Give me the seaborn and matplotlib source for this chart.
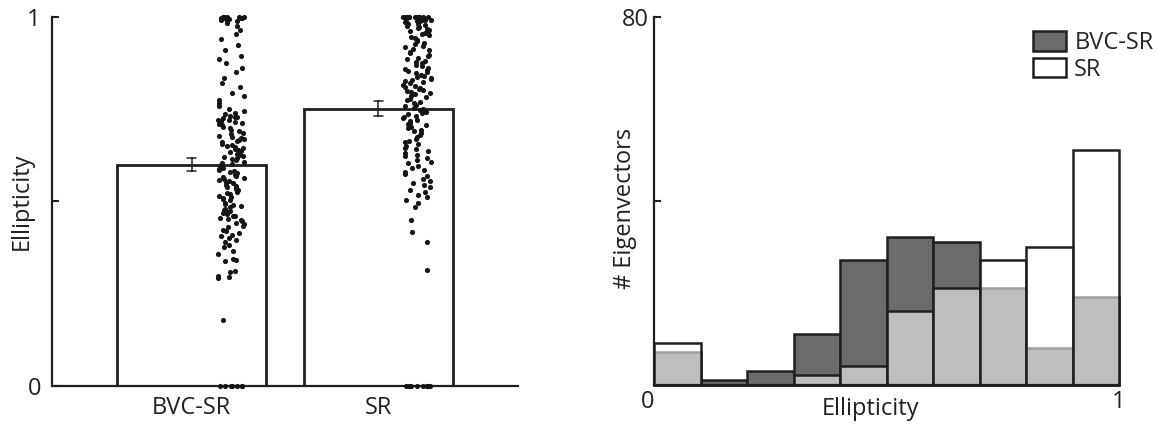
import numpy as np
import pandas as pd
import matplotlib
matplotlib.use("Agg")
import matplotlib.pyplot as plt
import seaborn as sns
from matplotlib.patches import Patch

# ---------------- data ----------------
categories = ["BVC-SR", "SR"]

bvc_sr_values = [
    0.0, 0.0, 0.0, 0.0, 0.0, 0.0, 0.0,
    0.18,
    0.292, 0.296, 0.299,
    0.31, 0.312, 0.338, 0.342, 0.345, 0.358, 0.365, 0.378, 0.382, 0.39, 0.396,
    0.402, 0.406, 0.41, 0.414, 0.42, 0.424, 0.43, 0.434, 0.44, 0.443, 0.447,
    0.45, 0.452, 0.456, 0.46, 0.462, 0.466, 0.47, 0.472, 0.475, 0.478, 0.481,
    0.484, 0.487, 0.49, 0.494, 0.497,
    0.503, 0.506, 0.51, 0.512, 0.516, 0.52, 0.523, 0.527, 0.53, 0.533, 0.536,
    0.54, 0.543, 0.546, 0.55, 0.552, 0.555, 0.558, 0.561, 0.564, 0.567, 0.57,
    0.573, 0.576, 0.579, 0.582, 0.585, 0.588, 0.59, 0.593, 0.596, 0.598,
    0.602, 0.605, 0.608, 0.612, 0.615, 0.618, 0.621, 0.624, 0.627, 0.63, 0.633,
    0.636, 0.639, 0.642, 0.645, 0.648, 0.651, 0.654, 0.657, 0.66, 0.663, 0.666,
    0.669, 0.672, 0.675, 0.678, 0.682, 0.686, 0.69, 0.694, 0.698,
    0.702, 0.706, 0.71, 0.712, 0.715, 0.718, 0.72, 0.722, 0.725, 0.728, 0.73,
    0.733, 0.736, 0.74, 0.745, 0.752, 0.76, 0.768, 0.775, 0.785, 0.795,
    0.81, 0.82, 0.835, 0.85, 0.862, 0.875, 0.885, 0.895,
    0.91, 0.925, 0.94, 0.955, 0.965, 0.975, 0.985, 0.99, 0.992, 0.994, 0.995,
    0.996, 0.997, 0.998, 0.999, 1.0, 1.0, 1.0, 1.0,
]

sr_values = [
    0.0, 0.0, 0.0, 0.0, 0.0, 0.0, 0.0, 0.0, 0.0,
    0.315, 0.39,
    0.416, 0.45, 0.486, 0.495,
    0.505, 0.512, 0.518, 0.525, 0.532, 0.54, 0.545, 0.55, 0.556, 0.562, 0.568,
    0.575, 0.58, 0.586, 0.59, 0.596,
    0.603, 0.608, 0.612, 0.618, 0.622, 0.627, 0.632, 0.636, 0.641, 0.646, 0.65,
    0.655, 0.66, 0.665, 0.67, 0.675, 0.68, 0.685, 0.69, 0.694, 0.698,
    0.702, 0.706, 0.71, 0.714, 0.718, 0.721, 0.725, 0.729, 0.732, 0.736, 0.74,
    0.743, 0.747, 0.75, 0.754, 0.758, 0.762, 0.766, 0.77, 0.774, 0.778, 0.782,
    0.786, 0.79, 0.793, 0.796, 0.799,
    0.802, 0.805, 0.808, 0.811, 0.814, 0.817, 0.82, 0.823, 0.826, 0.829, 0.832,
    0.835, 0.838, 0.841, 0.844, 0.847, 0.85, 0.853, 0.856, 0.859, 0.862, 0.866,
    0.87, 0.874, 0.878, 0.882, 0.886, 0.89, 0.894, 0.898,
    0.902, 0.906, 0.91, 0.914, 0.918, 0.922, 0.926, 0.93, 0.934, 0.938, 0.942,
    0.946, 0.95, 0.953, 0.956, 0.959, 0.962, 0.965, 0.968, 0.971, 0.974, 0.976,
    0.978, 0.98, 0.982, 0.984, 0.986, 0.988, 0.99, 0.991, 0.992, 0.993, 0.994,
    0.995, 0.996, 0.997, 0.998, 0.999, 1.0, 1.0, 1.0, 1.0, 1.0, 1.0, 1.0, 1.0,
    1.0, 1.0, 1.0, 1.0, 1.0,
]

bin_edges = [0.0, 0.1, 0.2, 0.3, 0.4, 0.5, 0.6, 0.7, 0.8, 0.9, 1.0]
bvc_sr_counts = [7, 1, 3, 11, 27, 32, 31, 21, 8, 19]
sr_counts = [9, 0, 0, 2, 4, 16, 21, 27, 30, 51]
hist_labels = ["BVC-SR", "SR"]

# ---------------- style ----------------
sns.set_theme(style="ticks")
plt.rcParams["font.family"] = ["Open Sans", "DejaVu Sans"]
FS = 17
EDGE = "#202020"
DARK = "#6b6b6b"

fig = plt.figure(figsize=(11.57, 4.25), dpi=100)
ax1 = fig.add_axes([52 / 1157, 39 / 425, 466 / 1157, 369 / 425])
ax2 = fig.add_axes([654 / 1157, 40.5 / 425, 465 / 1157, 367.5 / 425])

# ---------------- left panel ----------------
bar_pos = [1, 2]
df = pd.DataFrame({
    "pos": [bar_pos[0]] * len(bvc_sr_values) + [bar_pos[1]] * len(sr_values),
    "value": bvc_sr_values + sr_values,
})
sns.barplot(data=df, x="pos", y="value", native_scale=True, errorbar="se",
            color="white", saturation=1, edgecolor=EDGE, linewidth=2,
            width=0.8, capsize=0.05,
            err_kws={"color": EDGE, "linewidth": 1.1}, ax=ax1)

np.random.seed(3)
df_pts = df.copy()
df_pts["xpos"] = df_pts["pos"] + 0.21
sns.stripplot(data=df_pts, x="xpos", y="value", native_scale=True, orient="v",
              jitter=0.075, size=3.7, color="#151515", linewidth=0, ax=ax1)
for coll in ax1.collections:
    coll.set_clip_on(False)

ax1.set_xlim(0.25, 2.75)
ax1.set_ylim(0, 1)
ax1.set_xticks(bar_pos)
ax1.set_xticklabels(categories, fontsize=FS)
ax1.set_yticks([0, 0.5, 1])
ax1.set_yticklabels(["0", "", "1"], fontsize=FS)
ax1.tick_params(axis="y", direction="in", length=5, width=1.5, pad=8, colors=EDGE)
ax1.tick_params(axis="x", length=0, pad=7, colors=EDGE)
ax1.set_xlabel("")
ax1.set_ylabel("Ellipticity", fontsize=FS, color=EDGE)
ax1.yaxis.set_label_coords(-0.04, 0.5)
for s in ["top", "right"]:
    ax1.spines[s].set_visible(False)
for s in ["left", "bottom"]:
    ax1.spines[s].set_linewidth(1.6)
    ax1.spines[s].set_color(EDGE)

# ---------------- right panel ----------------
bin_centers = [(a + b) / 2 for a, b in zip(bin_edges[:-1], bin_edges[1:])]
sns.histplot(x=bin_centers, weights=bvc_sr_counts, bins=bin_edges, ax=ax2,
             facecolor=DARK, edgecolor=EDGE, linewidth=1.8)
sns.histplot(x=bin_centers, weights=sr_counts, bins=bin_edges, ax=ax2,
             facecolor=(1, 1, 1, 0.57), edgecolor=EDGE, linewidth=1.8)
for p in ax2.patches:
    p.set_clip_on(False)

ax2.set_xlim(0, 1)
ax2.set_ylim(0, 80)
ax2.set_xticks([0, 1])
ax2.set_xticklabels(["0", "1"], fontsize=FS)
ax2.get_xticklabels()[0].set_horizontalalignment("right")
ax2.set_yticks([0, 40, 80])
ax2.set_yticklabels(["", "", "80"], fontsize=FS)
ax2.tick_params(axis="y", direction="in", length=5, width=1.5, pad=4, colors=EDGE)
ax2.tick_params(axis="x", direction="in", length=0, pad=4, colors=EDGE)
ax2.set_xlabel("Ellipticity", fontsize=FS, color=EDGE)
ax2.set_ylabel("# Eigenvectors", fontsize=FS, color=EDGE)
ax2.xaxis.set_label_coords(0.465, -0.035)
ax2.yaxis.set_label_coords(-0.037, 0.478)
for s in ["top", "right"]:
    ax2.spines[s].set_visible(False)
for s in ["left", "bottom"]:
    ax2.spines[s].set_linewidth(1.6)
    ax2.spines[s].set_color(EDGE)

handles = [Patch(facecolor=DARK, edgecolor=EDGE, linewidth=1.8),
           Patch(facecolor="white", edgecolor=EDGE, linewidth=1.8)]
ax2.legend(handles, hist_labels, loc="upper left", bbox_to_anchor=(0.815, 0.962),
           frameon=False, fontsize=FS, handlelength=1.4, handleheight=0.9,
           handletextpad=0.35, labelspacing=0.12, borderaxespad=0, borderpad=0)

fig.savefig("out.png", dpi=100)
